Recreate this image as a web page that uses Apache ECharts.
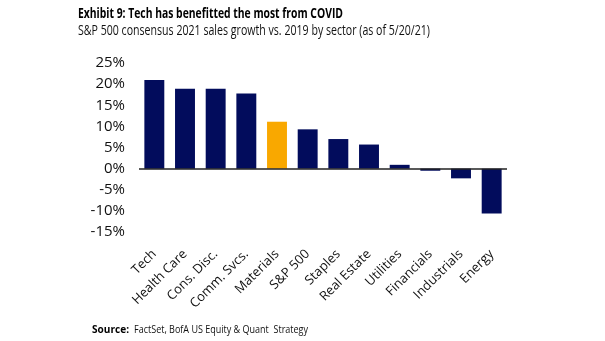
<!DOCTYPE html>
<html><head><meta charset="utf-8">
<script src="https://cdn.jsdelivr.net/npm/echarts@6/dist/echarts.min.js"></script>
<style>html,body{margin:0;padding:0;background:#fff}#c{width:605px;height:341px}</style>
</head><body><div id="c"></div>
<script>
const categories = ['Tech','Health Care','Cons. Disc.','Comm. Svcs.','Materials','S&P 500','Staples','Real Estate','Utilities','Financials','Industrials','Energy'];
const salesGrowth = [21.0, 18.9, 18.9, 17.8, 11.1, 9.3, 7.0, 5.7, 0.9, -0.5, -2.3, -10.6];
const highlight = 'Materials';
const yTicks = {min: -15, max: 25, interval: 5};
const titleText = 'Exhibit 9: Tech has benefitted the most from COVID';
const subtitleText = 'S&P 500 consensus 2021 sales growth vs. 2019 by sector (as of 5/20/21)';
const sourceLabel = 'Source:';
const sourceText = 'FactSet, BofA US Equity & Quant  Strategy';

const ctx = document.createElement('canvas').getContext('2d');
function fit(text, font, target) {
  ctx.font = font;
  return Math.min(1, target / ctx.measureText(text).width);
}
const tFont = 'bold 14px "Open Sans"';
const sFont = '14px "Open Sans"';
const srcBFont = 'bold 11px "Open Sans"';
const srcFont = '11px "Open Sans"';
const tScale = fit(titleText, tFont, 265);
const sScale = fit(subtitleText, sFont, 352);
const srcBScale = fit(sourceLabel, srcBFont, 37);
const srcScale = fit(sourceText, srcFont, 174);

const chart = echarts.init(document.getElementById('c'));
chart.setOption({
  animation: false,
  graphic: [
    {type: 'text', left: 78, top: 7, scaleX: tScale, originX: 0,
     style: {text: titleText, font: tFont, fill: '#000'}},
    {type: 'text', left: 78, top: 24, scaleX: sScale, originX: 0,
     style: {text: subtitleText, font: sFont, fill: '#111'}},
    {type: 'text', left: 92, top: 324, scaleX: srcBScale,
     style: {text: sourceLabel, font: srcBFont, fill: '#000'}},
    {type: 'text', left: 134, top: 324, scaleX: srcScale,
     style: {text: sourceText, font: srcFont, fill: '#111'}}
  ],
  grid: {left: 139, right: 98, top: 63, bottom: 109, containLabel: false},
  xAxis: {
    type: 'category', data: categories,
    axisLine: {show: false, onZero: false}, axisTick: {show: false},
    axisLabel: {rotate: 45, margin: 20, fontFamily: 'Open Sans', fontSize: 13, color: '#111', interval: 0}
  },
  yAxis: {
    type: 'value', min: yTicks.min, max: yTicks.max, interval: yTicks.interval,
    splitLine: {show: false}, axisLine: {show: false}, axisTick: {show: false},
    axisLabel: {formatter: '{value}%', margin: 14, fontFamily: 'Open Sans', fontSize: 15, color: '#111'}
  },
  series: [{
    type: 'bar', barCategoryGap: '35%',
    data: salesGrowth.map((v, i) => ({value: v, itemStyle: {color: categories[i] === highlight ? '#F9A800' : '#020C5C'}})),
    markLine: {silent: true, symbol: 'none', label: {show: false},
      lineStyle: {color: '#222', width: 1.5, type: 'solid'}, data: [{yAxis: 0}]}
  }]
});
</script></body></html>
